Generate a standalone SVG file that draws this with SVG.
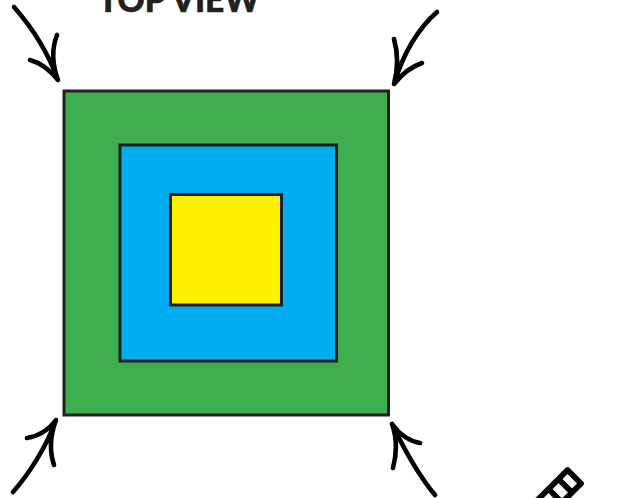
<svg xmlns="http://www.w3.org/2000/svg" width="620" height="498" viewBox="0 0 620 498">
<style>
.sq{stroke:#231f20;stroke-width:3}
.ar{fill:none;stroke:#000;stroke-width:4.600;stroke-linecap:round;stroke-linejoin:round}
.t{font-family:"Lato",sans-serif;font-weight:900;font-size:33.500px;fill:#231f20;stroke:#231f20;stroke-width:.6}
</style>
<rect width="620" height="498" fill="#fff"/>
<text class="t" id="title" x="98" y="12">TOP VIEW</text>
<g id="outer"><rect class="sq" x="64" y="91" width="324.500" height="324" fill="#3fae4f"/></g>
<g id="middle"><rect class="sq" x="120" y="145" width="216.500" height="216" fill="#00aeef"/></g>
<g id="inner"><rect class="sq" x="170.500" y="194.500" width="111" height="110.500" fill="#fff200"/></g>
<g id="connectors">
<path class="ar" d="M14 7C29 24 47 50 58 80M57 35C52 48 52 64 58 80C50 70 41 63 30 60"/>
<path class="ar" d="M437 12C421 26 405 48 394 84M394 39C398 53 398 69 394 84C402 74 410 67 422 63"/>
<path class="ar" d="M13 492C28 475 46 448 56 420M54 465C49 450 50 436 56 420C48 431 39 436 27 438"/>
<path class="ar" d="M435 495C420 477 404 449 392 424M393 468C397 453 397 438 392 424C400 435 409 441 420 443"/>
</g>
<g id="pencil" fill="#fff" stroke="#000" stroke-width="5.800" stroke-linejoin="round">
<path d="M567.500 470L581 483.500L545 519.500L531.500 506Z"/>
<path d="M558.500 479L572 492.500M548.500 489L562 502.500" fill="none"/>
</g>
</svg>
